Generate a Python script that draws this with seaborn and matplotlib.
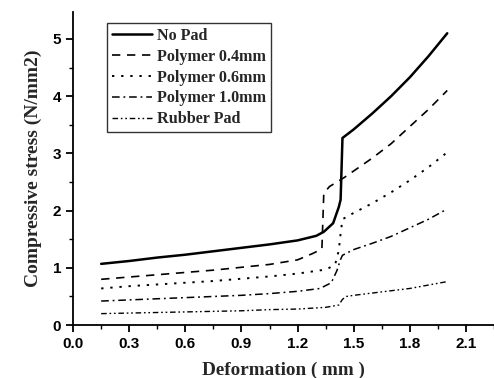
import matplotlib
matplotlib.use('Agg')
import matplotlib.pyplot as plt
import seaborn as sns
import pandas as pd
from matplotlib.ticker import MultipleLocator

# data (deformation in mm, stress in N/mm2)
x_nopad = [0.15, 0.3, 0.45, 0.6, 0.75, 0.9, 1.05, 1.2, 1.3, 1.34, 1.39, 1.42, 1.43, 1.44, 1.5, 1.6, 1.7, 1.8, 1.9, 2.0]
y_nopad = [1.07, 1.12, 1.18, 1.23, 1.29, 1.35, 1.41, 1.48, 1.56, 1.63, 1.78, 2.06, 2.19, 3.27, 3.42, 3.70, 4.00, 4.33, 4.70, 5.10]

x_p04 = [0.15, 0.3, 0.45, 0.6, 0.75, 0.9, 1.05, 1.2, 1.28, 1.33, 1.34, 1.37, 1.45, 1.6, 1.7, 1.8, 1.9, 2.0]
y_p04 = [0.80, 0.84, 0.88, 0.92, 0.96, 1.01, 1.06, 1.14, 1.25, 1.33, 2.30, 2.42, 2.58, 2.92, 3.17, 3.47, 3.77, 4.10]

x_p06 = [0.15, 0.3, 0.45, 0.6, 0.75, 0.9, 1.05, 1.2, 1.35, 1.40, 1.42, 1.43, 1.44, 1.5, 1.6, 1.7, 1.8, 1.9, 2.0]
y_p06 = [0.64, 0.68, 0.71, 0.74, 0.77, 0.81, 0.85, 0.90, 0.97, 1.05, 1.30, 1.60, 1.85, 1.96, 2.13, 2.32, 2.53, 2.76, 3.02]

x_p10 = [0.15, 0.3, 0.45, 0.6, 0.75, 0.9, 1.05, 1.2, 1.32, 1.38, 1.41, 1.43, 1.44, 1.5, 1.6, 1.7, 1.8, 1.9, 2.0]
y_p10 = [0.42, 0.44, 0.46, 0.48, 0.50, 0.52, 0.55, 0.59, 0.64, 0.74, 0.95, 1.15, 1.22, 1.32, 1.43, 1.55, 1.70, 1.85, 2.03]

x_rub = [0.15, 0.3, 0.45, 0.6, 0.75, 0.9, 1.05, 1.2, 1.35, 1.42, 1.44, 1.46, 1.5, 1.6, 1.7, 1.8, 1.9, 2.0]
y_rub = [0.20, 0.21, 0.22, 0.23, 0.24, 0.25, 0.27, 0.28, 0.31, 0.35, 0.45, 0.50, 0.52, 0.56, 0.60, 0.64, 0.70, 0.76]

series = [
    ('No Pad', x_nopad, y_nopad, '-', 1.8),
    ('Polymer 0.4mm', x_p04, y_p04, (0, (5, 4)), 1.2),
    ('Polymer 0.6mm', x_p06, y_p06, (0, (1.2, 3.5)), 1.4),
    ('Polymer 1.0mm', x_p10, y_p10, (0, (5, 2.5, 1.2, 2.5)), 1.1),
    ('Rubber Pad', x_rub, y_rub, (0, (4, 2, 1.2, 2, 1.2, 2)), 1.0),
]

sns.set_style('ticks')
plt.rcParams['font.family'] = ['Liberation Sans', 'DejaVu Sans']

fig = plt.figure(figsize=(4.94, 3.78), dpi=100)
ax = fig.add_axes([0.148, 0.140, 0.852, 0.828])

for name, xs, ys, ls, lw in series:
    df = pd.DataFrame({'x': xs, 'y': ys})
    sns.lineplot(data=df, x='x', y='y', ax=ax, sort=False, estimator=None,
                 color='black', linestyle=ls, linewidth=lw, label=name)

ax.set_xlim(0, 2.25)
ax.set_ylim(0, 5.47)
ax.xaxis.set_major_locator(MultipleLocator(0.3))
ax.xaxis.set_minor_locator(MultipleLocator(0.15))
ax.yaxis.set_major_locator(MultipleLocator(1))
ax.yaxis.set_minor_locator(MultipleLocator(0.5))
ax.xaxis.set_major_formatter(matplotlib.ticker.FormatStrFormatter('%.1f'))

sns.despine(ax=ax)
for s in ['left', 'bottom']:
    ax.spines[s].set_linewidth(1.3)
    ax.spines[s].set_color('black')
ax.tick_params(which='major', length=5, width=1.3, direction='out', colors='black', labelsize=11)
ax.tick_params(which='minor', length=3, width=1.0, direction='out', colors='black')
for lab in ax.get_xticklabels() + ax.get_yticklabels():
    lab.set_fontweight('bold')

ax.set_xlabel('Deformation ( mm )', family='Liberation Serif', fontweight='bold', fontsize=13.8, labelpad=8)
ax.set_ylabel('Compressive stress (N/mm2)', family='Liberation Serif', fontweight='bold', fontsize=14, labelpad=8)

leg = ax.legend(loc='upper left', bbox_to_anchor=(0.081, 0.965), frameon=True, fancybox=False,
                prop={'family': 'Liberation Serif', 'weight': 'bold', 'size': 11.6},
                handlelength=2.5, handletextpad=0.3, labelspacing=0.3, borderpad=0.3,
                borderaxespad=0)
leg.get_frame().set_edgecolor('black')
leg.get_frame().set_linewidth(1.0)

fig.savefig('out.png', dpi=100)
